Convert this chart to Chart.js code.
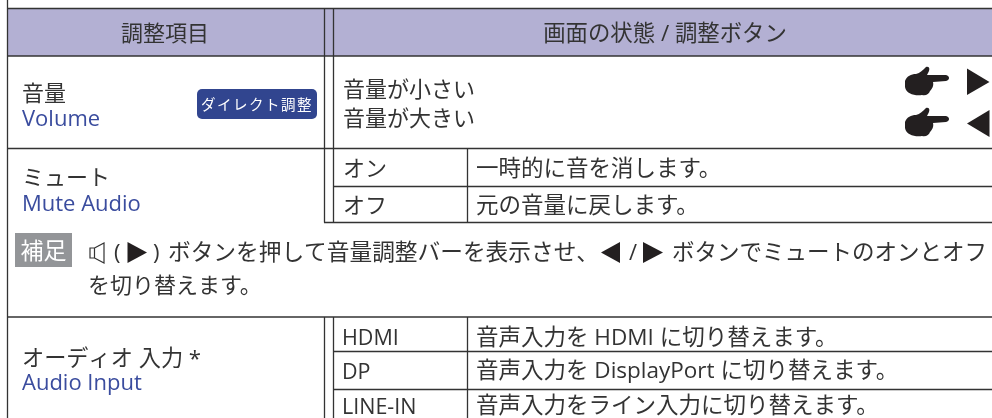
<!DOCTYPE html>
<html>
<head>
<meta charset="utf-8">
<title>音量の調整項目</title>
<style>
  html, body { margin: 0; padding: 0; background: #fff; }
  canvas { display: block; }
</style>
<script src="https://cdn.jsdelivr.net/npm/chart.js@4/dist/chart.umd.min.js"></script>
</head>
<body>
<canvas id="table" width="992" height="418"></canvas>
<script>
const headers = ['調整項目', '画面の状態 / 調整ボタン'];
const itemsJa = ['音量', 'ミュート', 'オーディオ 入力 *'];
const itemsEn = ['Volume', 'Mute Audio', 'Audio Input'];
const badgeLabel = 'ダイレクト調整';
const volumeStates = ['音量が小さい', '音量が大きい'];
const muteKeys = ['オン', 'オフ'];
const muteTexts = ['一時的に音を消します。', '元の音量に戻します。'];
const noteLabel = '補足';
const noteParts = ['(', ')', 'ボタンを押して音量調整バーを表示させ、', '/', 'ボタンでミュートのオンとオフ'];
const noteSecond = 'を切り替えます。';
const inputKeys = ['HDMI', 'DP', 'LINE-IN'];
const inputTexts = ['音声入力を HDMI に切り替えます。', '音声入力を DisplayPort に切り替えます。', '音声入力をライン入力に切り替えます。'];

const INK = '#333333';
const BLUE = '#3a4c9e';
const FONT = '"Open Sans", "Noto Sans CJK JP", sans-serif';

// table rules, in canvas units: [x1, y1, x2, y2]
const rules = [
  [7.5, 0, 7.5, 418],
  [7, 8.5, 992, 8.5],
  [7, 56, 992, 56],
  [7, 148.5, 992, 148.5],
  [333, 186.5, 992, 186.5],
  [324, 222.5, 992, 222.5],
  [7, 317, 992, 317],
  [333, 351.5, 992, 351.5],
  [333, 389.5, 992, 389.5],
  [324.5, 8, 324.5, 222.5],
  [333.5, 8, 333.5, 222.5],
  [324.5, 317, 324.5, 418],
  [333.5, 317, 333.5, 418],
  [467.5, 148, 467.5, 222.5],
  [467.5, 317, 467.5, 418]
];

const tablePlugin = {
  id: 'tablePlugin',
  beforeDatasetsDraw(chart) {
    const c = chart.ctx;
    c.fillStyle = '#b3b0d3';
    c.fillRect(px(chart, 8), py(chart, 9), px(chart, 992) - px(chart, 8), py(chart, 56) - py(chart, 9));
  },
  afterDatasetsDraw(chart) {
    const c = chart.ctx;
    const text = (s, x, y, size, color, align, spacing) => {
      c.font = size + 'px ' + FONT;
      c.fillStyle = color || INK;
      c.textAlign = align || 'left';
      c.textBaseline = 'middle';
      c.letterSpacing = (spacing || 0) + 'px';
      // middle baseline sits about 2px high for these fonts
      c.fillText(s, px(chart, x), py(chart, y + 2));
    };

    text(headers[0], 165, 33, 22, INK, 'center');
    text(headers[1], 665, 33, 22.4, INK, 'center');

    text(itemsJa[0], 22, 93, 22);
    text(itemsEn[0], 22, 118, 22, BLUE);
    text(itemsJa[1], 22, 177, 22);
    text(itemsEn[1], 22, 203, 22, BLUE);
    text(itemsJa[2], 22, 358, 22.2);
    text(itemsEn[2], 22, 382, 22, BLUE);

    c.fillStyle = '#31458f';
    c.beginPath();
    c.roundRect(197, 89, 120, 30, 5);
    c.fill();
    text(badgeLabel, 257, 104, 14.5, '#ffffff', 'center', 1.5);

    text(volumeStates[0], 343, 89, 22);
    text(volumeStates[1], 343, 118, 22);
    hand(c, 905, 67);
    hand(c, 905, 108);
    triangle(c, 967, 68.5, 989.5, 82, 967, 95);
    triangle(c, 989.5, 110, 967, 123.5, 989.5, 137);

    text(muteKeys[0], 343, 168, 22);
    text(muteKeys[1], 343, 205, 22);
    text(muteTexts[0], 476, 168, 22.5);
    text(muteTexts[1], 476, 205, 22.5);

    c.fillStyle = '#939598';
    c.fillRect(15, 233, 57, 34);
    text(noteLabel, 43.5, 250, 23, '#ffffff', 'center');

    speaker(c);
    text(noteParts[0], 114, 252, 22);
    triangle(c, 127.5, 242, 147, 252.5, 127.5, 263);
    text(noteParts[1], 153, 252, 22);
    text(noteParts[2], 168, 252, 22.7);
    triangle(c, 620, 242, 601, 252.5, 620, 263);
    text(noteParts[3], 629, 252, 22);
    triangle(c, 643, 242, 663, 252.5, 643, 263);
    text(noteParts[4], 672, 252, 22.5);
    text(noteSecond, 88, 285, 22);

    text(inputKeys[0], 342, 337, 21.5);
    text(inputKeys[1], 342, 371, 21.5);
    text(inputKeys[2], 342, 406, 21.5);
    text(inputTexts[0], 476, 337, 22.5);
    text(inputTexts[1], 476, 370, 22.5);
    text(inputTexts[2], 476, 405, 22.5);
  }
};

function px(chart, v) { return chart.scales.x.getPixelForValue(v); }
function py(chart, v) { return chart.scales.y.getPixelForValue(v); }

function triangle(c, x1, y1, x2, y2, x3, y3) {
  c.fillStyle = '#231f20';
  c.beginPath();
  c.moveTo(x1, y1);
  c.lineTo(x2, y2);
  c.lineTo(x3, y3);
  c.closePath();
  c.fill();
}

function hand(c, x, y) {
  c.save();
  c.translate(x, y);
  c.fillStyle = '#231f20';
  c.beginPath();
  c.moveTo(0, 14);
  c.bezierCurveTo(2, 9, 6, 7, 11, 7);
  c.bezierCurveTo(15, 6, 18, 3, 21, 0);
  c.bezierCurveTo(25, -1, 25, 3, 23, 6);
  c.lineTo(22, 8);
  c.lineTo(41, 8);
  c.bezierCurveTo(45, 9, 45, 13, 41, 14);
  c.lineTo(28, 15);
  c.bezierCurveTo(29, 19, 27, 22, 25, 24);
  c.bezierCurveTo(24, 27, 21, 29, 17, 28);
  c.bezierCurveTo(10, 29, 1, 27, 0, 20);
  c.closePath();
  c.fill();
  c.restore();
}

function speaker(c) {
  c.strokeStyle = INK;
  c.lineWidth = 1.2;
  c.beginPath();
  c.rect(90, 248, 4.5, 10);
  c.moveTo(94.5, 248);
  c.lineTo(104, 243);
  c.lineTo(104, 263);
  c.lineTo(94.5, 258);
  c.stroke();
}

new Chart(document.getElementById('table').getContext('2d'), {
  type: 'scatter',
  data: {
    datasets: rules.map(r => ({
      data: [{ x: r[0], y: r[1] }, { x: r[2], y: r[3] }],
      showLine: true,
      borderColor: INK,
      borderWidth: 1.3,
      pointRadius: 0,
      fill: false
    }))
  },
  options: {
    responsive: false,
    animation: false,
    layout: { padding: 0 },
    plugins: { legend: { display: false }, tooltip: { enabled: false } },
    scales: {
      x: { type: 'linear', min: 0, max: 992, display: false },
      y: { type: 'linear', min: 0, max: 418, reverse: true, display: false }
    }
  },
  plugins: [tablePlugin]
});
</script>
</body>
</html>
